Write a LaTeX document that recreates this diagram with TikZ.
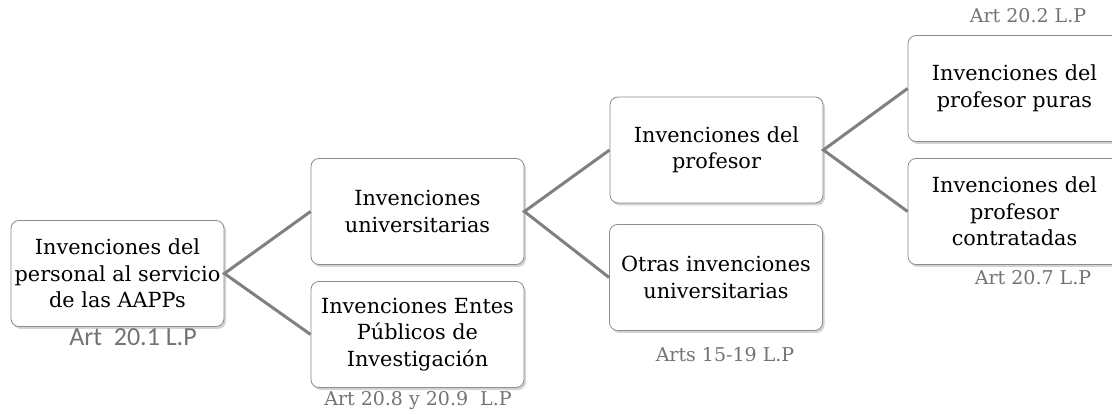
\documentclass[tikz,border=0pt]{standalone}
\usepackage{fontspec}
\setmainfont{DejaVu Serif}
\newfontfamily\artsans{Carlito}
\usetikzlibrary{shadows}

\tikzset{
	invbox/.style={draw=black!45, fill=white, rounded corners=8pt, line width=0.8pt,
		minimum width=213pt, minimum height=106pt, inner xsep=2pt, align=center,
		font=\fontsize{20.8}{26.5}\selectfont,
		drop shadow={opacity=0.35, shadow xshift=2pt, shadow yshift=-2.5pt}},
	artlabel/.style={text=black!55, font=\fontsize{19}{23}\selectfont},
	branch/.style={draw=black!50, line width=3pt}
}

\begin{document}
\begin{tikzpicture}[x=1pt, y=-1pt]%, show background rectangle]
	\useasboundingbox (0,0) rectangle (1112,414);

	\node[invbox] (root) at (117.5, 273.5) {Invenciones del\\personal al servicio\\de las AAPPs};
	\node[invbox] (univ) at (417.5, 211.5) {Invenciones\\universitarias};
	\node[invbox] (entes) at (417.5, 334.5) {Invenciones Entes\\Públicos de\\Investigación};
	\node[invbox] (prof) at (716.5, 150) {Invenciones del\\profesor};
	\node[invbox] (otras) at (716, 277.5) {Otras invenciones\\universitarias};
	\node[invbox] (puras) at (1014.5, 88.5) {Invenciones del\\profesor puras};
	\node[invbox] (contr) at (1014.5, 211.5) {Invenciones del\\profesor\\contratadas};

	\draw[branch] (univ.west) -- (root.east) -- (entes.west);
	\draw[branch] (prof.west) -- (univ.east) -- (otras.west);
	\draw[branch] (puras.west) -- (prof.east) -- (contr.west);

	\node[artlabel, font=\artsans\fontsize{26}{30}\selectfont] (art201) at (133, 337) {Art\ \ 20.1 L.P};
	\node[artlabel] (art208) at (418, 401) {Art 20.8 y 20.9\ \ L.P};
	\node[artlabel] (art1519) at (725, 355) {Arts 15-19 L.P};
	\node[artlabel] (art202) at (1028, 16) {Art 20.2 L.P};
	\node[artlabel] (art207) at (1033, 278) {Art 20.7 L.P};
\end{tikzpicture}
\end{document}
